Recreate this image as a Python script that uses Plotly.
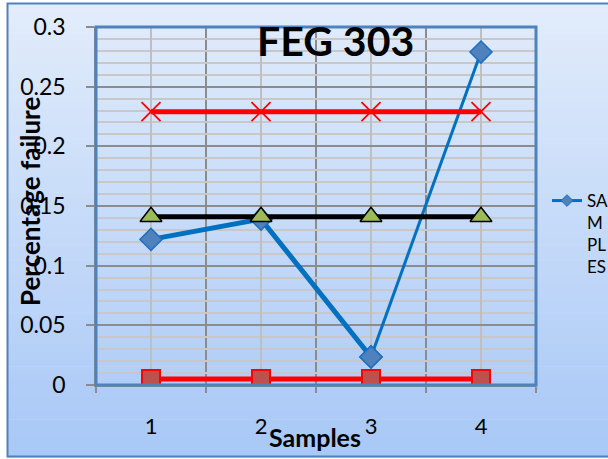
import plotly.graph_objects as go

samples = [1, 2, 3, 4]
series_samples = [0.122, 0.139, 0.0235, 0.279]
series_upper = [0.229, 0.229, 0.229, 0.229]
series_mean = [0.141, 0.141, 0.141, 0.141]
series_lower = [0.005, 0.005, 0.005, 0.005]
y_ticks = [0, 0.05, 0.1, 0.15, 0.2, 0.25, 0.3]
y_ticklabels = ["0", "0.05", "0.1", "0.15", "0.2", "0.25", "0.3"]
legend_label = "SA<br>M<br>PL<br>ES"

FONT = "Lato"
W, H = 608, 459
L, R, T, B = 96, 536, 27, 385

def px2x(px):
    return (px - L) / (R - L)

def px2y(py):
    return (B - py) / (B - T)

BLUE = "#0070C0"
fig = go.Figure()

# Blue samples line: thick segment 1-3, thinner 3-4
fig.add_trace(go.Scatter(
    x=samples[:3], y=series_samples[:3], mode="lines+markers",
    line=dict(color=BLUE, width=5),
    marker=dict(symbol="diamond", size=17, color="#4F81BD", line=dict(color="#1F6FC0", width=1.5)),
    showlegend=False))
fig.add_trace(go.Scatter(
    x=samples[2:], y=series_samples[2:], mode="lines+markers",
    line=dict(color=BLUE, width=3),
    marker=dict(symbol="diamond", size=17, color="#4F81BD", line=dict(color="#1F6FC0", width=1.5)),
    showlegend=False))
# legend entry for the samples series
fig.add_trace(go.Scatter(
    x=[None], y=[None], mode="lines+markers", name=legend_label,
    line=dict(color=BLUE, width=3),
    marker=dict(symbol="diamond", size=9, color="#4F81BD", line=dict(color="#1F6FC0", width=1)),
    showlegend=True))
fig.add_trace(go.Scatter(
    x=samples, y=series_upper, mode="lines+markers",
    line=dict(color="#FF0000", width=5),
    marker=dict(symbol="x-thin", size=19, color="#FF0000", line=dict(color="#FF0000", width=1.8)),
    showlegend=False))
fig.add_trace(go.Scatter(
    x=samples, y=series_mean, mode="lines+markers",
    line=dict(color="#000000", width=5),
    marker=dict(symbol="triangle-up", size=19, color="#9BBB59", line=dict(color="#000000", width=1.5)),
    showlegend=False))
fig.add_trace(go.Scatter(
    x=samples, y=series_lower, mode="lines+markers",
    line=dict(color="#FF0000", width=5),
    marker=dict(symbol="square", size=18, color="#C0504D", line=dict(color="#FF0000", width=2)),
    showlegend=False))

shapes = []
# Gradient background strips (paper coordinates)
n = 60
top = (226, 236, 251)
bot = (168, 200, 246)
y0p, y1p = 3, 457
for i in range(n):
    a = y0p + (y1p - y0p) * i / n
    b = y0p + (y1p - y0p) * (i + 1) / n + 0.6
    t = i / (n - 1)
    c = tuple(int(round(top[k] + (bot[k] - top[k]) * t)) for k in range(3))
    shapes.append(dict(type="rect", xref="paper", yref="paper", layer="below",
                       x0=px2x(7), x1=px2x(612), y0=px2y(a), y1=px2y(b),
                       line=dict(width=0), fillcolor="rgb(%d,%d,%d)" % c))
# Outer border
shapes.append(dict(type="rect", xref="paper", yref="paper", layer="below",
                   x0=px2x(7.5), x1=px2x(615), y0=px2y(3.5), y1=px2y(456.5),
                   line=dict(color="#4F81BD", width=2), fillcolor="rgba(0,0,0,0)"))
# Plot area border
shapes.append(dict(type="rect", xref="paper", yref="paper", layer="above",
                   x0=0, x1=1, y0=0, y1=1,
                   line=dict(color="#4F81BD", width=3), fillcolor="rgba(0,0,0,0)"))

fig.update_layout(
    width=W, height=H,
    margin=dict(l=L, r=W - R, t=T, b=H - B, pad=0, autoexpand=False),
    paper_bgcolor="white",
    plot_bgcolor="white",
    font=dict(family=FONT, color="black"),
    shapes=shapes,
    showlegend=True,
    legend=dict(x=px2x(547), xanchor="left", y=px2y(183), yanchor="top",
                bgcolor="rgba(0,0,0,0)", font=dict(family=FONT, size=17, color="black"),
                valign="top", tracegroupgap=0),
    annotations=[
        dict(text="<b>FEG 303</b>", xref="paper", yref="paper", x=px2x(335), y=px2y(40),
             xanchor="center", yanchor="middle", showarrow=False,
             font=dict(family=FONT, size=41, color="black")),
        dict(text="<b>Samples</b>", xref="paper", yref="paper", x=px2x(315), y=px2y(437),
             xanchor="center", yanchor="middle", showarrow=False,
             font=dict(family=FONT, size=25, color="black")),
        dict(text="<b>Percentage failure</b>", xref="paper", yref="paper", x=px2x(30), y=px2y(202),
             xanchor="center", yanchor="middle", showarrow=False, textangle=-90,
             font=dict(family=FONT, size=26, color="black")),
    ],
)

fig.update_xaxes(
    range=[0.5, 4.5], tickmode="array", tickvals=samples, ticktext=[str(s) for s in samples],
    showgrid=True, gridcolor="#BFBFBF", gridwidth=1.5,
    ticks="", showline=True, linecolor="#8C8C8C", linewidth=1.5,
    tickfont=dict(family=FONT, size=22, color="black"), ticklabelstandoff=21,
    minor=dict(tickmode="array", tickvals=[0.5, 1.5, 2.5, 3.5, 4.5], showgrid=True,
               gridcolor="#8C8C8C", gridwidth=1.5, ticks="outside", ticklen=6,
               tickcolor="#8C8C8C", tickwidth=1.5),
    zeroline=False, fixedrange=True)
fig.update_yaxes(
    range=[0, 0.3], tickmode="array", tickvals=y_ticks, ticktext=y_ticklabels,
    showgrid=True, gridcolor="#8C8C8C", gridwidth=1.5,
    ticks="outside", ticklen=8, tickcolor="#8C8C8C", tickwidth=1.5,
    showline=True, linecolor="#8C8C8C", linewidth=1.5,
    tickfont=dict(family=FONT, size=23, color="black"), ticklabelstandoff=16,
    minor=dict(dtick=0.01, tick0=0, showgrid=True, gridcolor="#C8C8C8", gridwidth=1.5, ticks=""),
    zeroline=False, fixedrange=True)

fig.write_html("out.html")
